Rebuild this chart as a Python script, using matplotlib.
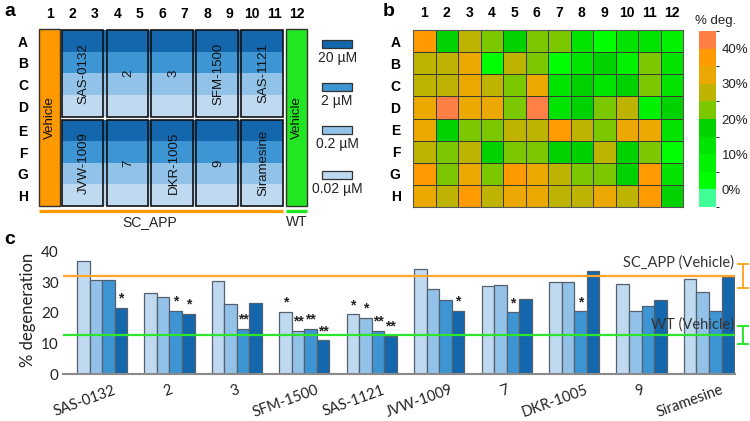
import matplotlib
matplotlib.use("Agg")
import matplotlib.pyplot as plt
import numpy as np
from matplotlib.colors import ListedColormap, BoundaryNorm
from matplotlib.patches import Rectangle
import matplotlib.transforms as mtransforms

# ---------------- data ----------------
plate_cols = [str(i) for i in range(1, 13)]
plate_rows = list("ABCDEFGH")
compounds_top = ["SAS-0132", "2", "3", "SFM-1500", "SAS-1121"]
compounds_bottom = ["JVW-1009", "7", "DKR-1005", "9", "Siramesine"]
dose_labels = ["20 \u00b5M", "2 \u00b5M", "0.2 \u00b5M", "0.02 \u00b5M"]

# panel b: % degeneration per well (rows A-H, cols 1-12)
heat_A = [37, 17, 27, 22, 17, 22, 22, 12, 2, 12, 12, 7]
heat_B = [27, 27, 32, 2, 27, 22, 2, 12, 17, 7, 22, 12]
heat_C = [27, 27, 32, 27, 22, 32, 12, 17, 12, 17, 22, 12]
heat_D = [32, 42, 32, 32, 22, 42, 12, 17, 22, 27, 7, 17]
heat_E = [32, 17, 22, 22, 27, 27, 37, 27, 22, 32, 32, 12]
heat_F = [27, 22, 27, 17, 22, 22, 17, 17, 27, 17, 22, 2]
heat_G = [37, 22, 32, 22, 37, 32, 27, 22, 22, 17, 37, 12]
heat_H = [32, 27, 37, 27, 32, 32, 27, 27, 32, 27, 37, 17]
cbar_bounds = [-5, 0, 5, 10, 15, 20, 25, 30, 35, 40, 45]
cbar_ticks = [0, 10, 20, 30, 40]

# panel c
groups = ["SAS-0132", "2", "3", "SFM-1500", "SAS-1121",
          "JVW-1009", "7", "DKR-1005", "9", "Siramesine"]
deg_002 = [36.9, 26.5, 30.4, 20.4, 19.5, 34.3, 28.7, 30.2, 29.4, 31.2]
deg_02 = [30.7, 25.1, 22.9, 14.2, 18.4, 27.9, 29.0, 30.2, 20.7, 26.8]
deg_2 = [30.7, 20.7, 14.8, 14.8, 14.2, 24.2, 20.3, 20.5, 22.1, 20.7]
deg_20 = [21.7, 19.7, 23.3, 11.1, 12.5, 20.7, 24.4, 33.6, 24.2, 31.8]
sig_002 = ["", "", "", "*", "*", "", "", "", "", ""]
sig_02 = ["", "", "", "**", "*", "", "", "", "", ""]
sig_2 = ["", "*", "**", "**", "**", "", "*", "*", "", ""]
sig_20 = ["*", "*", "", "**", "**", "*", "", "", "", ""]
sc_app_mean, sc_app_err = 32.1, 4.0
wt_mean, wt_err = 12.8, 2.95

# ---------------- style ----------------
blue_20, blue_2, blue_02, blue_002 = "#1467AC", "#3D95D4", "#93C2E8", "#BFD9F1"
dose_colors = [blue_20, blue_2, blue_02, blue_002]
orange = "#FF9900"
green = "#22E622"
line_orange = "#FFA62B"
line_green = "#2BE62B"
heat_colors = ["#40FF96", "#00FF00", "#00F200", "#00E400", "#00D200",
               "#7CC800", "#BDB300", "#EAA800", "#FF9A00", "#FF7F45"]
AF = "Liberation Sans"
CF = "Lato"

W, H = 750, 421
fig = plt.figure(figsize=(W / 100, H / 100), dpi=100)

def fx(px):
    return px / W

def fy(py):
    return 1 - py / H

# ================= panel a =================
ax_a = fig.add_axes([0, fy(230), fx(380), 230 / H])
U = lambda px: 1 + (px - 50) / 22.45
V = lambda py: (py - 30) / 22.0
ax_a.set_xlim(U(0), U(380))
ax_a.set_ylim(V(230), V(0))
ax_a.axis("off")

row_y0 = [r * 0.9875 for r in range(4)] + [4.08 + r * 0.98 for r in range(4)]
row_h = [0.9875] * 4 + [0.98] * 4
for r in range(8):
    ax_a.add_patch(Rectangle((1.52, row_y0[r]), 11.38 - 1.52, row_h[r],
                             facecolor=dose_colors[r % 4], edgecolor="none", zorder=1))
for k in range(5):
    u0 = 1.52 + 2 * k
    for (v0, v1, names) in [(0.0, 3.95, compounds_top), (4.08, 8.0, compounds_bottom)]:
        ax_a.add_patch(Rectangle((u0, v0), 1.86, v1 - v0, facecolor="none",
                                 edgecolor="#111111", lw=1.2, zorder=3))
        ax_a.text(u0 + 0.98, (v0 + v1) / 2, names[k], rotation=90, ha="center",
                  va="center", fontsize=9.5, family=AF, color="#111111", zorder=4)
# vehicle columns
ax_a.add_patch(Rectangle((0.51, -0.045), 0.94, 8.045, facecolor=orange,
                         edgecolor="#333333", lw=1.0, zorder=2))
ax_a.text(0.98, 4.0, "Vehicle", rotation=90, ha="center", va="center",
          fontsize=9.5, family=AF, color="#111111", zorder=4)
ax_a.add_patch(Rectangle((11.51, -0.045), 0.94, 8.045, facecolor=green,
                         edgecolor="#333333", lw=1.0, zorder=2))
ax_a.text(11.98, 4.0, "Vehicle", rotation=90, ha="center", va="center",
          fontsize=9.5, family=AF, color="#111111", zorder=4)
# labels
for j, c in enumerate(plate_cols):
    ax_a.text(j + 1, V(14), c, ha="center", va="center", fontsize=10,
              fontweight="bold", family=AF)
for r, rl in enumerate(plate_rows):
    ax_a.text(U(23), row_y0[r] + row_h[r] / 2 + 0.08, rl, ha="center", va="center",
              fontsize=10, fontweight="bold", family=AF)
# legend swatches
sw_y = [0.45, 2.41, 4.36, 6.41]
for i, lab in enumerate(dose_labels):
    ax_a.add_patch(Rectangle((13.12, sw_y[i]), 1.34, 0.35, facecolor=dose_colors[i],
                             edgecolor="#333333", lw=0.9))
    ax_a.text(13.79, sw_y[i] + 0.82, lab, ha="center", va="center", fontsize=10,
              family=AF, color="#222222")
# group lines
ax_a.plot([0.51, 11.38], [8.23, 8.23], color=orange, lw=2.4, solid_capstyle="butt")
ax_a.plot([11.51, 12.45], [8.23, 8.23], color=green, lw=2.4, solid_capstyle="butt")
ax_a.text(U(150), V(222), "SC_APP", ha="center", va="center", fontsize=10, family=AF,
          color="#222222")
ax_a.text(11.98, V(222), "WT", ha="center", va="center", fontsize=10, family=AF,
          color="#222222")

# ================= panel b =================
heat = np.array([heat_A, heat_B, heat_C, heat_D, heat_E, heat_F, heat_G, heat_H])
ax_b = fig.add_axes([fx(413), fy(207), fx(683) - fx(413), 177 / H])
cmap = ListedColormap(heat_colors)
norm = BoundaryNorm(cbar_bounds, cmap.N)
mesh = ax_b.pcolormesh(np.arange(13) - 0.5, np.arange(9) - 0.5, heat, cmap=cmap,
                       norm=norm, edgecolors="#3a3a2a", linewidth=0.7)
ax_b.set_xlim(-0.5, 11.5)
ax_b.set_ylim(7.5, -0.5)
ax_b.set_xticks(range(12))
ax_b.set_xticklabels(plate_cols, fontsize=10, fontweight="bold", family=AF)
ax_b.set_yticks(range(8))
ax_b.set_yticklabels(plate_rows, fontsize=10, fontweight="bold", family=AF)
ax_b.xaxis.tick_top()
ax_b.tick_params(length=0, pad=7)
ax_b.tick_params(axis="y", pad=9)
for s in ax_b.spines.values():
    s.set_color("#555555")
    s.set_linewidth(0.8)

cax = fig.add_axes([fx(699), fy(207), 17 / W, 176 / H])
cb = fig.colorbar(mesh, cax=cax, ticks=cbar_ticks)
cb.outline.set_visible(False)
cb.ax.tick_params(length=0, pad=4)
cb.ax.set_yticklabels([f"{t}%" for t in cbar_ticks], fontsize=9.5, family=AF,
                      color="#222222")
fig.text(fx(716), fy(21), "% deg.", ha="center", va="center", fontsize=9.5,
         family=AF, color="#222222")

# ================= panel c =================
ax_c = fig.add_axes([fx(63), fy(374), 672 / W, 42 * 3.06 / H])
x = np.arange(len(groups))
w = 0.186
series = [deg_002, deg_02, deg_2, deg_20]
sigs = [sig_002, sig_02, sig_2, sig_20]
bar_cols = [blue_002, blue_02, blue_2, blue_20]
for j in range(4):
    xs = x + (j - 1.5) * w
    ax_c.bar(xs, series[j], width=w, color=bar_cols[j], edgecolor="#55606e",
             linewidth=0.9, zorder=2)
    for xi, v, s in zip(xs, series[j], sigs[j]):
        if s:
            ax_c.text(xi, v + 0.6, s.replace("**", "* *").replace("* *", "**"),
                      ha="center", va="bottom", fontsize=10, fontweight="bold",
                      family=AF, color="#222222", zorder=5)
ax_c.set_xlim(-0.579, 9.386)
ax_c.set_ylim(0, 42)
ax_c.axhline(sc_app_mean, color=line_orange, lw=1.6, zorder=3)
ax_c.axhline(wt_mean, color=line_green, lw=1.6, zorder=3)
for m, e, col in [(sc_app_mean, sc_app_err, line_orange), (wt_mean, wt_err, line_green)]:
    cont = ax_c.errorbar([9.505], [m], yerr=[e], color=col, capsize=4, lw=1.4,
                         capthick=1.4, fmt="none")
    for art in cont.get_children():
        art.set_clip_on(False)
ax_c.text(9.371, 36.4, "SC_APP (Vehicle)", ha="right", va="center", fontsize=10.5,
          family=CF, color="#333333", zorder=6)
ax_c.text(9.371, 16.3, "WT (Vehicle)", ha="right", va="center", fontsize=10.5,
          family=CF, color="#333333", zorder=6)
ax_c.set_yticks([0, 10, 20, 30, 40])
ax_c.set_yticklabels(["0", "10", "20", "30", "40"], fontsize=11, family=CF,
                     color="#222222")
ax_c.tick_params(axis="y", length=0, pad=3)
ax_c.set_xticks([])
for s in ["top", "right", "left"]:
    ax_c.spines[s].set_visible(False)
ax_c.spines["bottom"].set_color("#8a8a8a")
ax_c.spines["bottom"].set_linewidth(1.5)
ax_c.set_ylabel("% degeneration", fontsize=12, family=CF, color="#222222", labelpad=4)

blend = mtransforms.blended_transform_factory(ax_c.transData, ax_c.transAxes)
labs = []
for xi, g in zip(x, groups):
    t = ax_c.text(xi, -0.07, g, rotation=20, ha="center", va="top", fontsize=10.5,
                  family=CF, color="#222222", transform=blend)
    labs.append(t)
fig.canvas.draw()
px_per_unit = ax_c.bbox.width / (9.386 + 0.579)
for xi, t in zip(x, labs):
    bb = t.get_window_extent()
    shift = -0.3 * max(bb.width - 7, 0)
    t.set_x(xi + shift / px_per_unit)

# panel letters
fig.text(fx(9.5), fy(12), "a", ha="center", va="center", fontsize=14, fontweight="bold", family=AF)
fig.text(fx(389), fy(11), "b", ha="center", va="center", fontsize=14, fontweight="bold", family=AF)
fig.text(fx(10), fy(239), "c", ha="center", va="center", fontsize=14, fontweight="bold", family=AF)

fig.savefig("out.png", dpi=100)
